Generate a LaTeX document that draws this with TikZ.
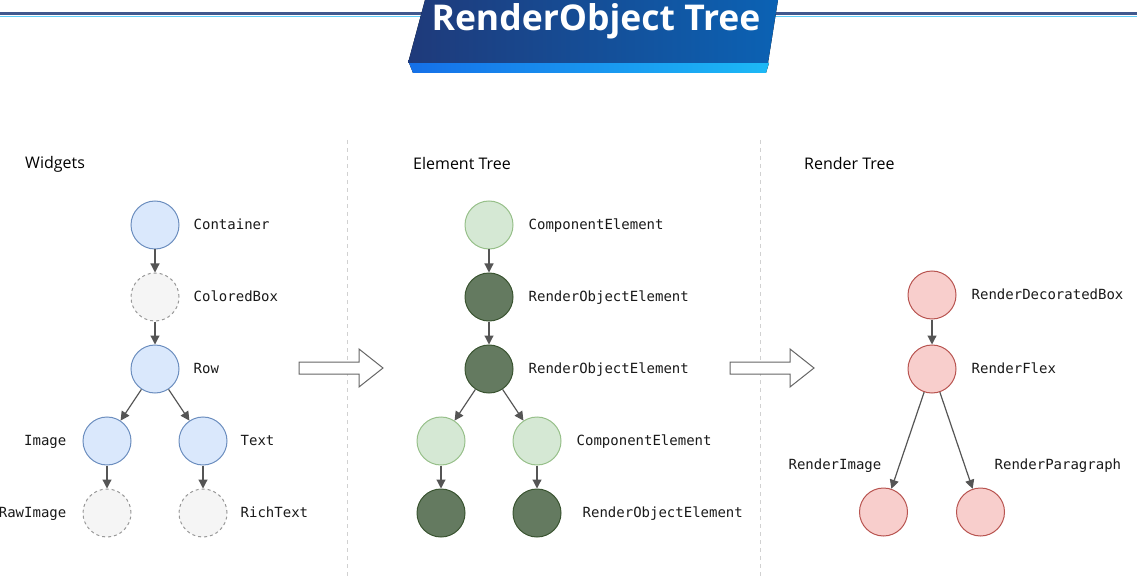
\documentclass[tikz,border=0pt]{standalone}
\usepackage[svgnames]{xcolor}
\usepackage{fontspec}
\setsansfont{Open Sans}
\setmonofont{DejaVu Sans Mono}
\usepackage{tikz}
\usetikzlibrary{arrows.meta,positioning}

\definecolor{WidgetFill}{HTML}{DAE8FC}
\definecolor{WidgetLine}{HTML}{6C8EBF}
\definecolor{GhostFill}{HTML}{F5F5F5}
\definecolor{GhostLine}{HTML}{999999}
\definecolor{CompFill}{HTML}{D5E8D4}
\definecolor{CompLine}{HTML}{97C08A}
\definecolor{ObjFill}{HTML}{647A60}
\definecolor{ObjLine}{HTML}{3A5431}
\definecolor{RenderFill}{HTML}{F8CECC}
\definecolor{RenderLine}{HTML}{B85450}
\definecolor{Edge}{HTML}{555555}
\definecolor{BannerDark}{HTML}{1F3A7A}
\definecolor{BannerBlue}{HTML}{0B62B4}
\definecolor{StripLeft}{HTML}{1570E8}
\definecolor{StripRight}{HTML}{1CB9F6}

\begin{document}
\begin{tikzpicture}[x=1pt, y=-1pt, >={Triangle[length=9pt,width=9pt]},
      level distance=72pt, sibling distance=96pt,
      edge from parent/.style={draw,->,color=Edge,line width=1.2pt}]
    \tikzstyle{dot} = [circle,minimum size=48pt,inner sep=0pt,line width=1pt]
    \tikzstyle{widget} = [dot,fill=WidgetFill,draw=WidgetLine]
    \tikzstyle{ghost} = [dot,fill=GhostFill,draw=GhostLine,dashed]
    \tikzstyle{comp} = [dot,fill=CompFill,draw=CompLine]
    \tikzstyle{robj} = [dot,fill=ObjFill,draw=ObjLine]
    \tikzstyle{rbox} = [dot,fill=RenderFill,draw=RenderLine]
    \tikzstyle{word} = [font=\ttfamily\fontsize{14}{14}\selectfont,color=black!90,inner sep=0pt,text height=11pt,text depth=2pt]
    \tikzstyle{head} = [font=\sffamily\fontsize{16}{16}\selectfont,color=black,anchor=west,inner sep=0pt]
    \tikzstyle{sep} = [draw=black!18,line width=1pt,dash pattern=on 4pt off 4pt]
    \useasboundingbox (0,0) rectangle (1137,577);

    % banner
    \draw[line width=3pt,color=BannerDark!85] (0,14) -- (1137,14);
    \draw[line width=0.8pt,color=StripRight!70] (0,16.3) -- (1137,16.3);
    \fill[left color=StripLeft,right color=StripRight] (409,63) -- (769,63) -- (766,73) -- (413,73) -- cycle;
    \fill[left color=BannerDark,right color=BannerBlue] (425,0) -- (778,0) -- (768,63) -- (408,63) -- cycle;
    \node (title) [font=\sffamily\bfseries\fontsize{35.5}{35.5}\selectfont,text=white] at (596,21) {RenderObject Tree};

    \node (hwidgets) [head] at (25,164) {Widgets};
    \node (helement) [head] at (413,164) {Element Tree};
    \node (hrender) [head] at (804,164) {Render Tree};
    \draw[sep] (347,140) -- (347,577);
    \draw[sep] (760,140) -- (760,577);

    % widgets
    \node (container) [widget] at (155,225) {}
      child {node (coloredbox) [ghost] {}
        child {node (row) [widget] {}
          child {node (image) [widget] {}
            child {node (rawimage) [ghost] {}}}
          child {node (text) [widget] {}
            child {node (richtext) [ghost] {}}}}};
    \node (lcontainer) [word,right=14pt of container] {Container};
    \node (lcoloredbox) [word,right=14pt of coloredbox] {ColoredBox};
    \node (lrow) [word,right=14pt of row] {Row};
    \node (limage) [word,left=16pt of image] {Image};
    \node (ltext) [word,right=13pt of text] {Text};
    \node (lrawimage) [word,left=16pt of rawimage] {RawImage};
    \node (lrichtext) [word,right=13pt of richtext] {RichText};

    % elements
    \node (compone) [comp] at (489,225) {}
      child {node (robjone) [robj] {}
        child {node (robjtwo) [robj] {}
          child {node (compleft) [comp] {}
            child {node (robjleft) [robj] {}}}
          child {node (compright) [comp] {}
            child {node (robjright) [robj] {}}}}};
    \node (lcompone) [word,right=15pt of compone] {ComponentElement};
    \node (lrobjone) [word,right=15pt of robjone] {RenderObjectElement};
    \node (lrobjtwo) [word,right=15pt of robjtwo] {RenderObjectElement};
    \node (lcompright) [word,right=15pt of compright] {ComponentElement};
    \node (lrobjright) [word,right=21pt of robjright] {RenderObjectElement};

    % render objects
    \begin{scope}[level 1/.style={level distance=74pt},
        level 2/.style={level distance=143pt,sibling distance=97pt}]
    \node (decbox) [rbox] at (932,295) {}
      child {node (flex) [rbox] {}
        child {node (rimage) [rbox] {}}
        child {node (rpara) [rbox] {}}};
    \end{scope}
    \node (ldecbox) [word,right=15pt of decbox] {RenderDecoratedBox};
    \node (lflex) [word,right=15pt of flex] {RenderFlex};
    \node (lrimage) [word,above left=16pt and 2pt of rimage.north] {RenderImage};
    \node (lrpara) [word,above right=16pt and 14pt of rpara.north] {RenderParagraph};

    % hollow arrows
    \foreach \x in {299,730}
      \draw[color=black!60,fill=white,line width=1pt] (\x,362) -- ++(60,0) -- ++(0,-13)
        -- ++(24,19) -- ++(-24,19) -- ++(0,-13) -- ++(-60,0) -- cycle;
\end{tikzpicture}
\end{document}
